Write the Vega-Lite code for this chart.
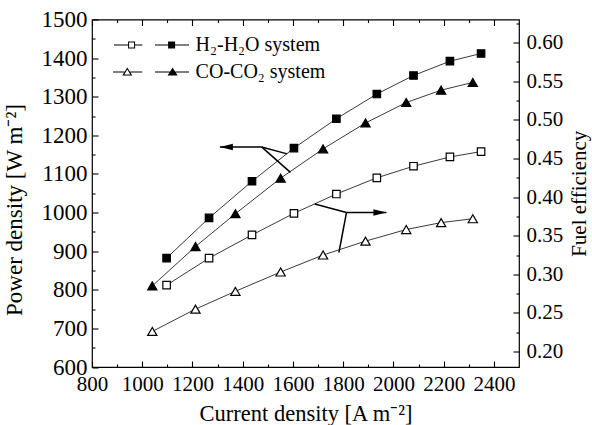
{
  "$schema": "https://vega.github.io/schema/vega-lite/v6.json",
  "width": 427,
  "height": 347.5,
  "autosize": {"type": "none"},
  "padding": {"left": 92, "top": 19.5, "right": 73, "bottom": 58},
  "background": "white",
  "datasets": {
    "pts": [
      {"current": 1097, "power": 882, "efficiency": 0.286, "system": "H₂-H₂O system"},
      {"current": 1266, "power": 986, "efficiency": 0.321, "system": "H₂-H₂O system"},
      {"current": 1437, "power": 1081, "efficiency": 0.351, "system": "H₂-H₂O system"},
      {"current": 1604, "power": 1167, "efficiency": 0.379, "system": "H₂-H₂O system"},
      {"current": 1773, "power": 1243, "efficiency": 0.404, "system": "H₂-H₂O system"},
      {"current": 1934, "power": 1307, "efficiency": 0.425, "system": "H₂-H₂O system"},
      {"current": 2080, "power": 1355, "efficiency": 0.440, "system": "H₂-H₂O system"},
      {"current": 2225, "power": 1392, "efficiency": 0.452, "system": "H₂-H₂O system"},
      {"current": 2349, "power": 1412, "efficiency": 0.459, "system": "H₂-H₂O system"},
      {"current": 1040, "power": 810, "efficiency": 0.226, "system": "CO-CO₂ system"},
      {"current": 1212, "power": 912, "efficiency": 0.255, "system": "CO-CO₂ system"},
      {"current": 1371, "power": 997, "efficiency": 0.278, "system": "CO-CO₂ system"},
      {"current": 1551, "power": 1089, "efficiency": 0.303, "system": "CO-CO₂ system"},
      {"current": 1720, "power": 1165, "efficiency": 0.325, "system": "CO-CO₂ system"},
      {"current": 1889, "power": 1232, "efficiency": 0.343, "system": "CO-CO₂ system"},
      {"current": 2051, "power": 1285, "efficiency": 0.358, "system": "CO-CO₂ system"},
      {"current": 2190, "power": 1317, "efficiency": 0.367, "system": "CO-CO₂ system"},
      {"current": 2316, "power": 1337, "efficiency": 0.372, "system": "CO-CO₂ system"}
    ],
    "leftNotes": [
      {"x": 1309, "y": 1170, "x2": 1475, "y2": 1170},
      {"x": 1475, "y": 1170, "x2": 1577, "y2": 1152},
      {"x": 1475, "y": 1170, "x2": 1590, "y2": 1104}
    ],
    "rightNotes": [
      {"x": 1972, "y": 0.380, "x2": 1813, "y2": 0.380},
      {"x": 1813, "y": 0.380, "x2": 1687, "y2": 0.391},
      {"x": 1813, "y": 0.380, "x2": 1783, "y2": 0.328}
    ],
    "leftHead": [{"x": 1309, "y": 1170}],
    "rightHead": [{"x": 1972, "y": 0.380}]
  },
  "resolve": {"scale": {"y": "independent"}, "axis": {"x": "independent", "y": "independent"}},
  "layer": [
    {
      "data": {"name": "pts"},
      "mark": {"type": "line", "stroke": "#222", "strokeWidth": 0.9},
      "encoding": {
        "x": {"field": "current", "type": "quantitative", "scale": {"domain": [800, 2500], "nice": false, "zero": false},
          "axis": {"orient": "bottom", "values": [800, 1000, 1200, 1400, 1600, 1800, 2000, 2200, 2400], "format": "d", "ticks": false, "labelFontSize": 21, "labelPadding": 6, "title": "Current density [A m⁻²]", "titleFontSize": 22.5, "titlePadding": 8}},
        "y": {"field": "power", "type": "quantitative", "scale": {"domain": [600, 1500], "nice": false, "zero": false},
          "axis": {"orient": "left", "values": [600, 700, 800, 900, 1000, 1100, 1200, 1300, 1400, 1500], "format": "d", "ticks": false, "labelFontSize": 23, "labelPadding": 5, "title": "Power density [W m⁻²]", "titleFontSize": 23, "titleX": -66, "titleY": 190, "titleAngle": 270, "titleBaseline": "bottom"}},
        "detail": {"field": "system"}
      }
    },
    {
      "data": {"name": "pts"},
      "mark": {"type": "line", "stroke": "#222", "strokeWidth": 0.9},
      "encoding": {
        "x": {"field": "current", "type": "quantitative", "scale": {"domain": [800, 2500], "nice": false, "zero": false},
          "axis": {"orient": "top", "values": [800, 1000, 1200, 1400, 1600, 1800, 2000, 2200, 2400], "labels": false, "tickSize": -6, "title": null}},
        "y": {"field": "efficiency", "type": "quantitative", "scale": {"domain": [0.18, 0.63], "nice": false, "zero": false},
          "axis": {"orient": "right", "values": [0.2, 0.25, 0.3, 0.35, 0.4, 0.45, 0.5, 0.55, 0.6], "format": ".2f", "ticks": false, "labelFontSize": 21, "labelPadding": 7, "title": "Fuel efficiency", "titleFontSize": 21, "titleAngle": 270, "titleBaseline": "top", "titlePadding": 6}},
        "detail": {"field": "system"}
      }
    },
    {
      "data": {"name": "pts"},
      "mark": {"type": "point", "filled": true, "fill": "black", "strokeWidth": 1.2, "opacity": 1},
      "encoding": {
        "x": {"field": "current", "type": "quantitative", "scale": {"domain": [800, 2500], "nice": false, "zero": false},
          "axis": {"orient": "bottom", "values": [800, 1000, 1200, 1400, 1600, 1800, 2000, 2200, 2400], "labels": false, "tickSize": -6, "title": null}},
        "y": {"field": "power", "type": "quantitative", "scale": {"domain": [600, 1500], "nice": false, "zero": false},
          "axis": {"orient": "left", "values": [600, 700, 800, 900, 1000, 1100, 1200, 1300, 1400, 1500], "labels": false, "tickSize": -6, "title": null}},
        "shape": {"field": "system", "type": "nominal",
          "scale": {"domain": ["H₂-H₂O system", "CO-CO₂ system"], "range": ["square", "triangle-up"]}, "legend": null},
        "size": {"field": "system", "type": "nominal", "scale": {"domain": ["CO-CO₂ system", "H₂-H₂O system"], "range": [85, 56]}, "legend": null},
        "stroke": {"field": "system", "type": "nominal", "sort": "descending", "scale": {"range": ["black", "black"]},
          "legend": {"orient": "none", "legendX": 29.6, "legendY": 15.5, "title": null, "padding": 0,
            "labelFont": "Liberation Serif", "labelFontSize": 20, "labelColor": "black", "labelOffset": 54, "labelLimit": 400,
            "rowPadding": 7, "symbolSize": 4, "symbolStrokeWidth": 0, "symbolFillColor": "black", "symbolOpacity": 1,
            "symbolType": {"expr": "datum.value === 'CO-CO₂ system' ? 'M-18.6,-0.5H-7.1V0.5H-18.6Z M-4.3,-4.5L0.7,3.5L-9.3,3.5Z M-4.3,-2.42L-7.31,2.4L-1.29,2.4Z M-1.5,-0.5H10.7V0.5H-1.5Z M23.4,-0.5H38.2V0.5H23.4Z M41,-4.5L46,3.5L36,3.5Z M43.8,-0.5H57.4V0.5H43.8Z' : 'M-17.6,-0.5H-3.5V0.5H-17.6Z M-3.5,-3.5H3.5V3.5H-3.5Z M-2.5,-2.5V2.5H2.5V-2.5Z M3.5,-0.5H10.7V0.5H3.5Z M23.4,-0.5H36.5V0.5H23.4Z M36.5,-3.5H43.5V3.5H36.5Z M43.5,-0.5H57.4V0.5H43.5Z'"},
            "encode": {"symbols": {
              "fill": {"value": "black"},
              "strokeWidth": {"value": 0}
            }}
          }}
      }
    },
    {
      "data": {"name": "pts"},
      "mark": {"type": "point", "filled": true, "fill": "white", "stroke": "black", "strokeWidth": 1.2, "opacity": 1},
      "encoding": {
        "x": {"field": "current", "type": "quantitative", "scale": {"domain": [800, 2500], "nice": false, "zero": false},
          "axis": {"orient": "bottom", "values": [900, 1100, 1300, 1500, 1700, 1900, 2100, 2300], "labels": false, "tickSize": -3, "title": null}},
        "y": {"field": "efficiency", "type": "quantitative", "scale": {"domain": [0.18, 0.63], "nice": false, "zero": false},
          "axis": {"orient": "right", "values": [0.2, 0.25, 0.3, 0.35, 0.4, 0.45, 0.5, 0.55, 0.6], "labels": false, "tickSize": -6, "title": null}},
        "shape": {"field": "system", "type": "nominal", "scale": {"domain": ["H₂-H₂O system", "CO-CO₂ system"], "range": ["square", "triangle-up"]}, "legend": null},
        "size": {"field": "system", "type": "nominal", "scale": {"domain": ["CO-CO₂ system", "H₂-H₂O system"], "range": [85, 56]}, "legend": null}
      }
    },
    {
      "data": {"name": "leftNotes"},
      "mark": {"type": "rule", "stroke": "black", "strokeWidth": 1.5},
      "encoding": {
        "x": {"field": "x", "type": "quantitative", "scale": {"domain": [800, 2500], "nice": false, "zero": false},
          "axis": {"orient": "top", "values": [900, 1100, 1300, 1500, 1700, 1900, 2100, 2300], "labels": false, "tickSize": -3, "title": null}},
        "x2": {"field": "x2"},
        "y": {"field": "y", "type": "quantitative", "scale": {"domain": [600, 1500], "nice": false, "zero": false},
          "axis": {"orient": "left", "values": [650, 750, 850, 950, 1050, 1150, 1250, 1350, 1450], "labels": false, "tickSize": -3, "title": null}},
        "y2": {"field": "y2"}
      }
    },
    {
      "data": {"name": "rightNotes"},
      "mark": {"type": "rule", "stroke": "black", "strokeWidth": 1.5},
      "encoding": {
        "x": {"field": "x", "type": "quantitative", "scale": {"domain": [800, 2500], "nice": false, "zero": false}, "axis": null},
        "x2": {"field": "x2"},
        "y": {"field": "y", "type": "quantitative", "scale": {"domain": [0.18, 0.63], "nice": false, "zero": false},
          "axis": {"orient": "right", "values": [0.225, 0.275, 0.325, 0.375, 0.425, 0.475, 0.525, 0.575, 0.625], "labels": false, "tickSize": -3, "title": null}},
        "y2": {"field": "y2"}
      }
    },
    {
      "data": {"name": "leftHead"},
      "mark": {"type": "point", "shape": "M0,0L2,-0.5L2,0.5Z", "size": 169, "filled": true, "fill": "black", "strokeWidth": 0, "opacity": 1},
      "encoding": {
        "x": {"field": "x", "type": "quantitative", "scale": {"domain": [800, 2500], "nice": false, "zero": false}, "axis": null},
        "y": {"field": "y", "type": "quantitative", "scale": {"domain": [600, 1500], "nice": false, "zero": false}, "axis": null}
      }
    },
    {
      "data": {"name": "rightHead"},
      "mark": {"type": "point", "shape": "M0,0L-2,-0.5L-2,0.5Z", "size": 169, "filled": true, "fill": "black", "strokeWidth": 0, "opacity": 1},
      "encoding": {
        "x": {"field": "x", "type": "quantitative", "scale": {"domain": [800, 2500], "nice": false, "zero": false}, "axis": null},
        "y": {"field": "y", "type": "quantitative", "scale": {"domain": [0.18, 0.63], "nice": false, "zero": false}, "axis": null}
      }
    }
  ],
  "config": {
    "font": "Liberation Serif",
    "view": {"stroke": "black", "strokeWidth": 1.2},
    "axis": {"grid": false, "domain": false, "labelFont": "Liberation Serif", "titleFont": "Liberation Serif", "labelColor": "black", "titleColor": "black", "tickColor": "black", "tickWidth": 1.1, "titleFontWeight": "normal", "labelOverlap": false, "labelFlush": false}
  }
}
